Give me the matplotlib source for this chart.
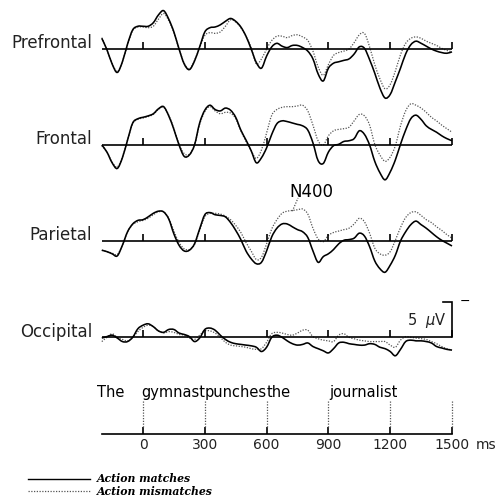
import numpy as np
import matplotlib
matplotlib.use("Agg")
import matplotlib.pyplot as plt
from matplotlib.path import Path
from matplotlib.patches import PathPatch

# ---------------- data (µV, negative plotted up) ----------------
times = np.arange(-200, 1501, 25)

prefrontal_match = [-1.5, 0.1, 2.1, 3.3, 1.8, -0.7, -2.7, -3.2,
    -3.2, -3.2, -3.7, -4.8, -5.4, -4.2, -2.4, 0.0, 2.1, 2.9, 1.7, -0.3,
    -2.4, -3.0, -3.1, -3.4, -3.9, -4.3, -3.9, -3.1, -1.8, 0.0, 1.9, 2.7,
    1.0, -0.3, -0.8, -0.4, -0.2, -0.5, -0.5, -0.2, 0.3, 1.4, 3.5, 4.5,
    2.7, 2.0, 1.8, 1.6, 1.4, 0.7, -0.3, -0.1, 1.5, 3.4, 5.5, 6.9,
    6.4, 4.6, 2.7, 0.7, -0.6, -1.1, -0.8, -0.4, 0.0, 0.3, 0.5, 0.6, 0.4]
prefrontal_mismatch = [-1.6, 0.1, 2.0, 3.2, 1.8, -0.6, -2.6, -3.1,
    -3.1, -3.0, -3.2, -4.2, -5.0, -4.0, -2.3, 0.0, 2.0, 2.8, 1.6, -0.2,
    -1.9, -2.3, -2.2, -2.4, -3.2, -4.1, -3.8, -3.0, -1.8, -0.2, 2.1, 1.4,
    0.0, -1.2, -1.8, -1.8, -1.6, -1.9, -2.0, -1.7, -1.2, 0.3, 2.5, 3.7,
    2.2, 0.9, 0.5, 0.3, 0.0, -0.9, -2.0, -2.2, -0.3, 2.2, 4.2, 5.6,
    5.0, 3.1, 0.8, -0.8, -1.5, -1.7, -1.5, -1.1, -0.8, -0.5, -0.1, 0.2, 0.4]

frontal_match = [0.0, 1.0, 2.5, 3.3, 1.8, -0.7, -3.1, -3.7,
    -3.9, -4.1, -4.4, -5.1, -5.4, -4.1, -2.2, 0.0, 1.6, 1.4, 0.0, -3.1,
    -4.9, -5.6, -5.0, -4.8, -5.2, -4.9, -3.9, -2.1, -0.7, 0.8, 2.5, 1.8,
    0.4, -1.5, -3.0, -3.4, -3.3, -3.1, -2.9, -2.7, -2.1, -0.3, 2.2, 2.6,
    1.0, 0.1, -0.1, -0.5, -0.6, -0.9, -2.0, -1.5, 0.0, 2.3, 3.9, 4.9,
    3.8, 2.1, -0.1, -2.1, -3.7, -4.2, -3.6, -2.7, -2.2, -1.8, -1.3, -0.9, -0.6]
frontal_mismatch = [0.1, 1.0, 2.4, 3.1, 1.7, -0.7, -3.0, -3.6,
    -3.8, -4.0, -4.3, -5.0, -5.3, -4.2, -2.3, -0.1, 1.2, 1.3, 0.0, -2.9,
    -4.7, -5.4, -4.8, -4.4, -4.6, -4.5, -3.7, -2.0, -0.5, 0.8, 1.9, 0.7,
    -1.7, -4.2, -5.0, -5.3, -5.4, -5.4, -5.5, -5.6, -4.8, -2.8, -0.6, 0.0,
    -1.3, -2.0, -2.2, -2.3, -2.5, -3.4, -4.3, -4.1, -2.8, -0.1, 1.4, 2.3,
    1.7, 0.1, -2.7, -4.8, -5.8, -5.6, -5.2, -4.6, -3.9, -3.4, -2.8, -2.3, -1.8]

parietal_match = [1.3, 1.5, 1.8, 2.1, 0.6, -1.3, -2.4, -2.9,
    -3.0, -3.4, -3.9, -4.2, -4.1, -3.1, -1.0, 0.6, 1.4, 1.3, 0.4, -1.7,
    -3.7, -4.0, -3.7, -3.6, -3.4, -2.6, -1.5, -0.2, 1.4, 2.5, 3.2, 3.0,
    1.4, -0.6, -1.8, -2.4, -2.4, -2.0, -1.6, -1.3, -0.5, 1.4, 3.0, 2.2,
    1.8, 1.2, 0.4, -0.1, -0.2, -0.4, -1.1, -0.7, 0.8, 2.8, 3.9, 4.4,
    3.4, 2.0, 0.0, -1.3, -2.3, -2.8, -2.3, -1.8, -1.2, -0.6, -0.1, 0.3, 0.7]
parietal_mismatch = [1.3, 1.5, 1.7, 1.9, 0.6, -1.3, -2.3, -2.7,
    -2.9, -3.2, -3.7, -4.1, -4.1, -3.2, -1.4, 0.2, 1.1, 1.2, 0.5, -1.5,
    -3.4, -3.9, -3.9, -3.8, -3.5, -3.0, -2.2, -1.2, 0.2, 1.4, 2.6, 2.3,
    0.4, -1.7, -3.0, -3.9, -4.2, -4.3, -4.4, -4.5, -3.8, -1.8, -0.3, 0.1,
    -0.8, -1.2, -1.4, -1.6, -1.8, -2.4, -3.2, -2.7, -1.1, 1.0, 1.8, 2.0,
    1.5, -0.1, -1.9, -3.3, -4.0, -4.1, -3.6, -3.0, -2.6, -2.0, -1.5, -0.9, -0.4]

occipital_match = [0.1, -0.1, -0.3, 0.1, 0.6, 0.6, 0.0, -1.2,
    -1.7, -1.9, -1.5, -0.9, -0.7, -1.1, -1.1, -0.6, -0.4, -0.1, 0.6, 0.1,
    -1.1, -1.3, -1.0, -0.3, 0.3, 0.7, 0.9, 1.0, 1.1, 1.2, 1.4, 2.0,
    1.4, 0.0, -0.3, 0.0, 0.5, 0.9, 1.1, 1.0, 0.8, 1.3, 1.6, 1.9,
    2.2, 1.6, 0.8, 0.7, 0.9, 1.0, 1.1, 1.1, 0.9, 1.0, 1.4, 1.6,
    2.0, 2.6, 1.7, 0.6, 0.4, 0.5, 0.5, 0.6, 0.8, 1.3, 1.5, 1.7, 1.8]
occipital_mismatch = [0.6, 0.0, -0.5, 0.0, 0.3, 0.5, 0.0, -0.8,
    -1.4, -1.7, -1.5, -0.9, -0.6, -0.8, -0.7, -0.4, -0.3, 0.1, 0.3, -0.3,
    -0.9, -0.9, -0.6, 0.0, 0.7, 1.1, 1.2, 1.3, 1.4, 1.6, 1.7, 1.6,
    0.7, -0.5, -0.7, -0.6, -0.4, -0.3, -0.6, -1.0, -1.0, -0.1, 0.2, 0.4,
    0.5, 0.6, -0.3, -0.5, 0.0, 0.2, 0.4, 0.5, 0.6, 0.6, 0.6, 0.6,
    1.1, 1.4, 0.4, -0.1, 0.0, 0.1, 0.2, 0.3, 0.6, 0.9, 1.3, 1.6, 1.8]

regions = ["Prefrontal", "Frontal", "Parietal", "Occipital"]
match_series = [prefrontal_match, frontal_match, parietal_match, occipital_match]
mismatch_series = [prefrontal_mismatch, frontal_mismatch, parietal_mismatch, occipital_mismatch]

words = ["The", "gymnast", "punches", "the", "journalist"]
word_onsets = [-225, -10, 300, 600, 905]
tick_times = [0, 300, 600, 900, 1200, 1500]
scale_uv = 5
legend_labels = ["Action matches", "Action mismatches"]

# ---------------- layout ----------------
W, H = 504, 499
PX_PER_MS = 0.206
X0_PX = 143.0
PX_PER_UV = 7.1

def xpx(p):
    return (p - X0_PX) / PX_PER_MS

def ypx(p):
    return -p / PX_PER_UV

fig = plt.figure(figsize=(W / 100, H / 100), dpi=100)
ax = fig.add_axes([0, 0, 1, 1])
ax.set_xlim(xpx(0), xpx(W))
ax.set_ylim(ypx(H), ypx(0))
ax.axis("off")


def smooth_line(ax, x, y, **kw):
    """Draw a smooth (Catmull-Rom as cubic Bezier) line through the data points."""
    x = np.asarray(x, float)
    y = np.asarray(y, float)
    pts = np.column_stack([x, y])
    ext = np.vstack([pts[0], pts, pts[-1]])
    verts = [pts[0]]
    codes = [Path.MOVETO]
    for i in range(len(pts) - 1):
        p0, p1, p2, p3 = ext[i], ext[i + 1], ext[i + 2], ext[i + 3]
        c1 = p1 + (p2 - p0) / 6.0
        c2 = p2 - (p3 - p1) / 6.0
        verts += [c1, c2, p2]
        codes += [Path.CURVE4] * 3
    patch = PathPatch(Path(verts, codes), fill=False, transform=ax.transData, **kw)
    ax.add_patch(patch)
    return patch


baselines_px = [49.0, 145.0, 241.0, 337.3]
tick_len = 7 / PX_PER_UV
t0, t1 = times[0], times[-1]
dot_color = "#555555"
dot_style = (0, (1, 1.2))

for name, m, mm, bpx in zip(regions, match_series, mismatch_series, baselines_px):
    base = ypx(bpx)
    ax.plot([t0, t1], [base, base], color="black", lw=1.2, solid_capstyle="butt")
    ax.vlines(tick_times, base, base + tick_len, color="black", lw=1.2)
    smooth_line(ax, times, base - np.asarray(mm), edgecolor=dot_color, lw=0.9,
                linestyle=dot_style)
    smooth_line(ax, times, base - np.asarray(m), edgecolor="black", lw=1.15)
    ax.text(xpx(92), base + 0.1, name, ha="right", va="baseline",
            fontsize=12, color="#222222")

# N400 annotation on parietal mismatch
par_base = ypx(baselines_px[2])
i_n4 = int(np.where(times == 725)[0][0])
ax.plot([times[i_n4], xpx(298)], [par_base - parietal_mismatch[i_n4] - 0.1, ypx(198)],
        color=dot_color, lw=0.9, linestyle=dot_style)
ax.text(xpx(289), ypx(197), "N400", ha="left", va="baseline", fontsize=12,
        color="black")

# scale bar on occipital
occ_base = ypx(baselines_px[3])
ax.plot([xpx(443), t1, t1], [occ_base + scale_uv, occ_base + scale_uv, occ_base],
        color="black", lw=1.2, solid_joinstyle="miter")
ax.text(xpx(460), occ_base + scale_uv, "\u2212", ha="left", va="center",
        fontsize=9, color="black")
ax.text(xpx(407), ypx(325), "5  $\\mu$V", ha="left", va="baseline",
        fontsize=10.5, color="#222222")

# time axis
axis_base = ypx(433.5)
ax.plot([t0, t1], [axis_base, axis_base], color="black", lw=1.2)
ax.vlines(tick_times, axis_base, axis_base + tick_len, color="black", lw=1.2)
ax.vlines(tick_times, axis_base + tick_len, ypx(401), color=dot_color, lw=0.9,
          linestyle=dot_style)
for t in tick_times:
    ax.text(t, ypx(445), str(t), ha="center", va="center", fontsize=10,
            color="#222222")
ax.text(xpx(476), ypx(445), "ms", ha="left", va="center", fontsize=10,
        color="#222222")
for w, t in zip(words, word_onsets):
    ax.text(t, ypx(397), w, ha="left", va="baseline", fontsize=10.5,
            color="black")

# legend
ax.plot([xpx(28), xpx(90)], [ypx(478.5), ypx(478.5)], color="black", lw=1.0)
ax.plot([xpx(28), xpx(90)], [ypx(491), ypx(491)], color=dot_color, lw=0.9,
        linestyle=dot_style)
for lab, yp in zip(legend_labels, [479, 491.5]):
    ax.text(xpx(97), ypx(yp), lab, ha="left", va="center", fontsize=7.8,
            family="DejaVu Serif", style="italic", weight="bold", color="black")

fig.savefig("out.png", dpi=100)
